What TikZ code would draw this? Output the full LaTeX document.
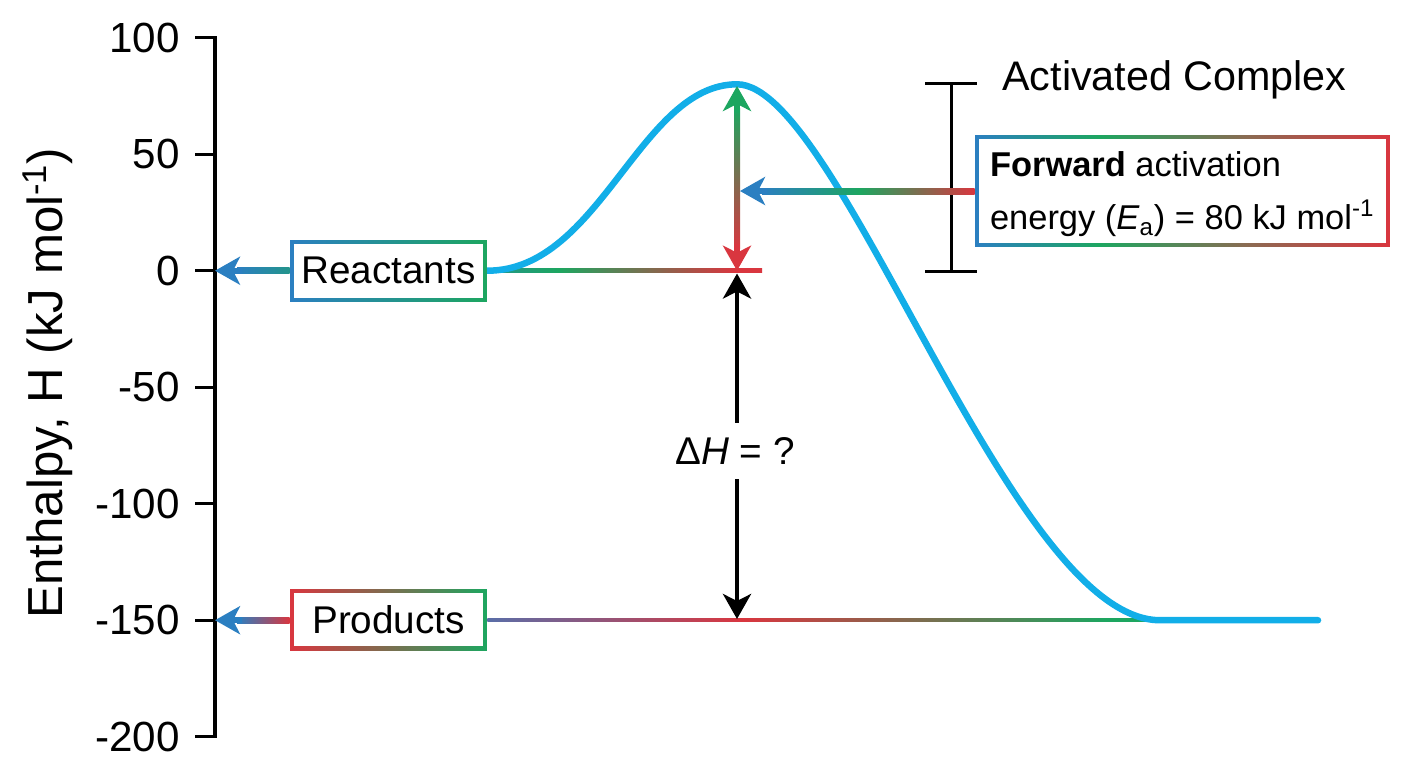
\documentclass[tikz,border=0pt]{standalone}
\usepackage{fontspec}
\setmainfont{Liberation Sans}
\usetikzlibrary{arrows.meta,calc}

\definecolor{ablue}{HTML}{2B7FC1}
\definecolor{agreen}{HTML}{1DA660}
\definecolor{ared}{HTML}{D9363F}
\definecolor{acyan}{HTML}{12AEE8}
\definecolor{aslate}{HTML}{5A6EA8}
\definecolor{abrown}{HTML}{8C6A52}
\colorlet{ateal}{ablue!45!agreen}

\pgfdeclarehorizontalshading{fwdbox}{100bp}{color(0bp)=(ablue); color(25bp)=(ablue); color(40bp)=(agreen); color(58bp)=(abrown); color(75bp)=(ared); color(100bp)=(ared)}
\pgfdeclarehorizontalshading{fwdshaft}{100bp}{color(0bp)=(ablue); color(25bp)=(ablue); color(48bp)=(agreen); color(75bp)=(ared); color(100bp)=(ared)}
\pgfdeclarehorizontalshading{reactline}{100bp}{color(0bp)=(ateal); color(25bp)=(ateal); color(38bp)=(agreen); color(70bp)=(ared); color(100bp)=(ared)}
\pgfdeclarehorizontalshading{prodline}{100bp}{color(0bp)=(aslate); color(25bp)=(aslate); color(44bp)=(ared); color(71bp)=(agreen); color(100bp)=(agreen)}

\tikzset{
    axisline/.style={line width=1.9pt, line join=miter},
    ticklabel/.style={anchor=east, inner sep=0pt, font=\fontsize{24}{28}\selectfont},
    headtip/.style={line width=0.12cm, -{Stealth[length=0.5cm, width=0.56cm, inset=0.14cm]}},
    blacktip/.style={line width=0.09cm, -{Stealth[length=0.5cm, width=0.56cm, inset=0.14cm]}},
    levelbox/.style={minimum width=3.94cm, minimum height=1.22cm, inner sep=0pt},
    bracket/.style={line width=1.7pt},
    gradframe/.style={path picture={
        \shade[#1] (path picture bounding box.south west) rectangle (path picture bounding box.north east);
        \fill[white] ([shift={(2pt,2pt)}]path picture bounding box.south west) rectangle ([shift={(-2pt,-2pt)}]path picture bounding box.north east);}}
}

\begin{document}
\begin{tikzpicture}[x=0.02cm, y=-0.02cm, font=\fontsize{22}{26}\selectfont]
    \useasboundingbox (0,0) rectangle (1408,768);

    % axis
    \coordinate (ax0) at (215,270.7);
    \coordinate (ax150) at (215,620.2);
    \draw[axisline] (195,37.7) -- (215,37.7) -- (215,736.7) -- (195,736.7);
    \foreach \h in {50,0,...,-150}
        \draw[axisline] (195,{270.7-2.33*\h}) -- (215,{270.7-2.33*\h});
    \foreach \h [count=\i] in {100,50,...,-200}
        \node[ticklabel] (tick\i) at (180,{270.7-2.33*\h}) {\h};
    \node[rotate=90, font=\fontsize{28}{32}\selectfont] (ylab) at (48,383) {Enthalpy, H (kJ mol\textsuperscript{-1})};

    % levels
    \node[levelbox] (react) at (388.5,270.7) {};
    \node[levelbox] (prod) at (388.5,619.5) {};
    \coordinate (reactend) at (762,270.7);
    \coordinate (prodend) at (1160,620.2);
    \shade[shading=reactline] ($(react.east)+(0,-1.75)$) rectangle ($(reactend)+(0,1.75)$);
    \shade[shading=prodline] ($(prod.east |- prodend)+(0,-1.75)$) rectangle ($(prodend)+(0,1.75)$);

    % enthalpy curve
    \coordinate (peak) at (737,84.3);
    \coordinate (curveend) at (1318,620.2);
    \draw[acyan, line width=0.13cm, line cap=round] (react.east) .. controls (600,270.7) and (640,84.3) .. (peak)
        .. controls (840,84.3) and (1010,620.2) .. (prodend) -- (curveend);

    % boxes
    \node[levelbox, gradframe={left color=ablue, right color=agreen}] (react) at (388.5,270.7) {Reactants};
    \node[levelbox, gradframe={left color=ared, right color=agreen}] (prod) at (388.5,619.5) {Products};
    \node[gradframe={shading=fwdbox}, minimum width=8.3cm, minimum height=2.24cm, inner sep=0pt] (fwd) at (1182.5,191) {};
    \node[anchor=west, align=left, inner sep=0pt, font=\fontsize{19.6}{30.5}\selectfont] (fwdtext) at ($(fwd.west)+(15,3)$)
        {\textbf{Forward} activation\\energy (\textit{E}\textsubscript{a}) = 80 kJ mol\textsuperscript{-1}};

    % arrows to the axis
    \shade[left color=ablue, right color=ateal] ($(ax0)+(22,-3)$) rectangle ($(react.west)+(0,3)$);
    \draw[headtip, ablue] ($(ax0)+(27,0)$) -- (ax0);
    \shade[left color=ablue, right color=ared] ($(ax150)+(22,-3)$) rectangle ($(prod.west |- ax150)+(0,3)$);
    \draw[headtip, ablue] ($(ax150)+(27,0)$) -- (ax150);

    % activation energy
    \coordinate (eatop) at (737,86);
    \coordinate (eabot) at (737,270.7);
    \shade[top color=agreen, bottom color=ared] ($(eatop)+(-3,22)$) rectangle ($(eabot)+(3,-22)$);
    \draw[headtip, agreen] ($(eatop)+(0,27)$) -- (eatop);
    \draw[headtip, ared] ($(eabot)+(0,-27)$) -- (eabot);

    % bracket and activated complex
    \coordinate (brtop) at (951,83.3);
    \coordinate (brbot) at (951,271.7);
    \draw[bracket] ($(brtop)+(-26,0)$) -- ($(brtop)+(26,0)$);
    \draw[bracket] ($(brbot)+(-26,0)$) -- ($(brbot)+(26,0)$);
    \draw[bracket] (brtop) -- (brbot);
    \node[anchor=west, inner sep=0pt, font=\fontsize{23.5}{28}\selectfont] (actc) at (1002,80) {Activated Complex};

    \coordinate (fwdtip) at (740,191);
    \shade[shading=fwdshaft] ($(fwdtip)+(22,-3)$) rectangle ($(fwd.west)+(0,3)$);
    \draw[headtip, ablue] ($(fwdtip)+(27,0)$) -- (fwdtip);

    % enthalpy change
    \node[inner xsep=2pt, inner ysep=0.29cm] (dh) at (735,451) {Δ\textit{H} = ?};
    \coordinate (dhtop) at (737,273.5);
    \coordinate (dhbot) at (737,619);
    \draw[blacktip] (dh.north -| dhtop) -- (dhtop);
    \draw[blacktip] (dh.south -| dhtop) -- (dhbot);
\end{tikzpicture}
\end{document}
